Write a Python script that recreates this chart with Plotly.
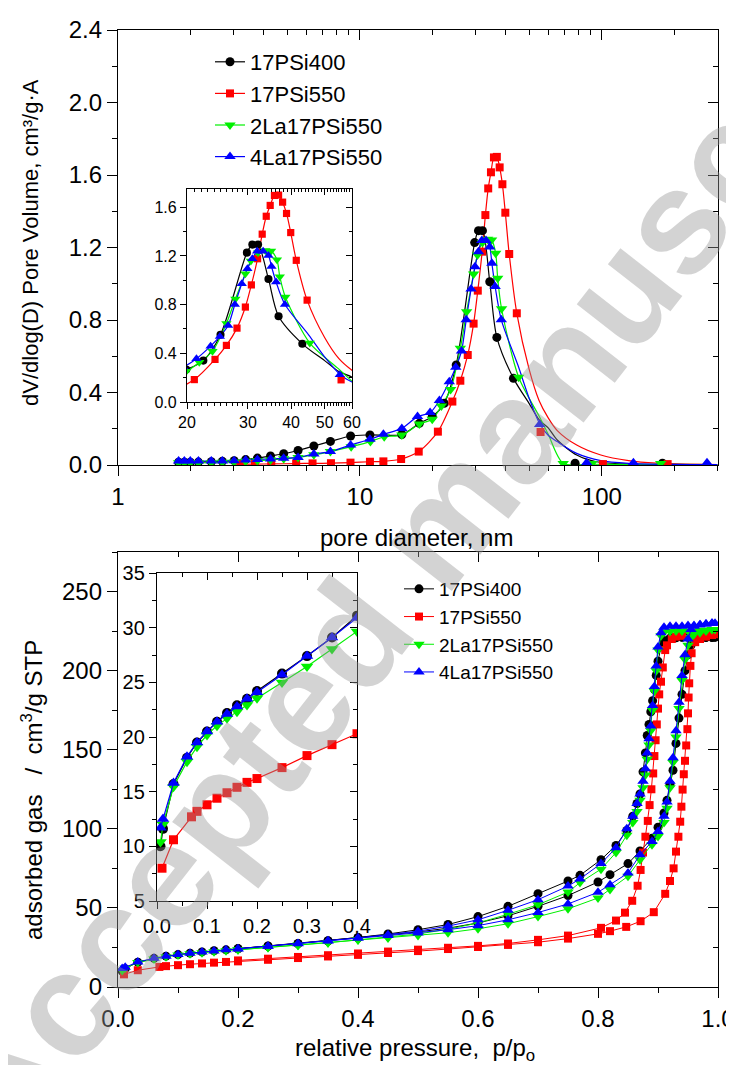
import math
import plotly.graph_objects as go

W, H = 734, 1073          # screenshot size
OFF = 8                    # page body margin
WF, HF = W - OFF, H - 2 * OFF
FONT = "Liberation Sans, Arial, sans-serif"

names = ["17PSi400", "17PSi550", "2La17PSi550", "4La17PSi550"]
colors = ["#000000", "#ff0000", "#00f000", "#0000ff"]
symbols = ["circle", "square", "triangle-down", "triangle-up"]

# ---------------- pore size distribution (top) ----------------
psd_d_17psi400 = [1.78, 1.88, 1.99, 2.15, 2.43, 2.70, 3.02, 3.37, 3.77, 4.27, 4.84, 5.55, 6.45, 7.55, 9.15,
                  11.0, 14.9, 17.6, 19.9, 22.3, 25.0, 29.8, 30.9, 32.1, 34.4, 36.8, 43.1, 77.5, 178]
psd_v_17psi400 = [0.015, 0.015, 0.015, 0.016, 0.018, 0.020, 0.024, 0.030, 0.038, 0.050, 0.062, 0.080, 0.105, 0.130, 0.160,
                  0.166, 0.168, 0.230, 0.267, 0.340, 0.552, 1.227, 1.293, 1.293, 1.011, 0.704, 0.478, 0.010, 0.010]
psd_tail_d_17psi400 = [50, 55, 60, 65.4, 78.7, 95, 130, 180, 300]
psd_tail_v_17psi400 = [0.34, 0.25, 0.205, 0.138, 0.055, 0.018, 0.005, 0.002, 0.001]

psd_d_17psi550 = [3.2, 3.68, 4.30, 5.45, 6.37, 7.59, 9.14, 11.0, 12.5, 14.8, 17.5, 21.0, 24.1, 26.0, 27.9, 29.5,
                  30.7, 32.0, 33.0, 33.9, 34.8, 35.8, 36.8, 37.8, 38.8, 39.9, 41.4, 44.5, 55.8, 101, 187]
psd_v_17psi550 = [0.004, 0.005, 0.006, 0.008, 0.009, 0.010, 0.013, 0.018, 0.020, 0.033, 0.074, 0.184, 0.350, 0.465, 0.607, 0.780,
                  0.962, 1.177, 1.379, 1.526, 1.615, 1.697, 1.700, 1.642, 1.549, 1.392, 1.164, 0.837, 0.182, 0.005, 0.005]
psd_tail_d_17psi550 = [50, 55, 60, 65.4, 78.7, 99, 129, 168, 300]
psd_tail_v_17psi550 = [0.53, 0.356, 0.26, 0.19, 0.11, 0.055, 0.024, 0.01, 0.002]

psd_d_2la = [1.78, 1.88, 1.99, 2.15, 2.43, 2.70, 3.02, 3.37, 3.77, 4.27, 4.84, 5.55, 6.45, 7.55, 9.2,
             11.05, 12.6, 14.9, 17.6, 19.9, 21.7, 23.7, 26.0, 27.6, 29.5, 30.6, 32.1, 33.7, 35.0, 36.4,
             37.1, 38.5, 45.3, 69.2, 91, 175]
psd_v_2la = [0.012, 0.012, 0.012, 0.012, 0.013, 0.015, 0.017, 0.020, 0.024, 0.028, 0.034, 0.042, 0.056, 0.074, 0.101,
             0.129, 0.156, 0.165, 0.226, 0.252, 0.326, 0.417, 0.644, 0.846, 1.054, 1.159, 1.227, 1.245, 1.241, 1.168,
             1.030, 0.862, 0.484, 0.008, 0.008, 0.008]
psd_tail_d_2la = [55, 60, 69.2, 91, 175, 300]
psd_tail_v_2la = [0.27, 0.17, 0.01, 0.004, 0.003, 0.002]

psd_d_4la = [1.78, 1.88, 1.99, 2.15, 2.43, 2.70, 3.02, 3.37, 3.77, 4.27, 4.84, 5.55, 6.45, 7.55, 9.15,
             11.0, 12.5, 14.9, 17.3, 19.5, 21.3, 23.4, 24.9, 26.3, 27.5, 28.8, 29.9, 30.9, 31.9, 33.2,
             34.4, 35.1, 36.2, 38.4, 55.3, 86.5, 135, 272]
psd_v_4la = [0.022, 0.022, 0.022, 0.022, 0.022, 0.022, 0.024, 0.028, 0.031, 0.033, 0.037, 0.042, 0.061, 0.074, 0.110,
             0.142, 0.169, 0.202, 0.267, 0.289, 0.356, 0.459, 0.539, 0.629, 0.801, 0.971, 1.094, 1.176, 1.239, 1.239,
             1.203, 1.113, 0.985, 0.801, 0.224, 0.013, 0.013, 0.013]
psd_tail_d_4la = [45, 50, 55.4, 60, 65.4, 78.7, 99, 129, 200, 300]
psd_tail_v_4la = [0.55, 0.37, 0.226, 0.164, 0.129, 0.064, 0.024, 0.009, 0.003, 0.002]

psd_cut = [43.1, 44.5, 45.3, 38.4]

# ---------------- N2 isotherms (bottom) ----------------
p_ads = [0.007, 0.012, 0.033, 0.06, 0.08, 0.10, 0.12, 0.14, 0.16, 0.18, 0.20, 0.25, 0.30, 0.35, 0.40,
         0.45, 0.50, 0.55, 0.60, 0.65, 0.70, 0.75, 0.80, 0.82, 0.85, 0.87, 0.89, 0.90, 0.91, 0.915,
         0.92, 0.925, 0.93, 0.935, 0.94, 0.945, 0.95, 0.955, 0.96, 0.97, 0.98, 0.99, 0.995]
p_des = [0.99, 0.98, 0.97, 0.96, 0.95, 0.94, 0.93, 0.92, 0.91, 0.905, 0.90, 0.897, 0.894, 0.891, 0.888,
         0.885, 0.882, 0.879, 0.875, 0.87, 0.865, 0.858, 0.848, 0.83, 0.805, 0.77, 0.75, 0.70, 0.65, 0.60,
         0.55, 0.50, 0.45, 0.40, 0.35, 0.30, 0.25, 0.20]

ads_17psi400 = [10.0, 11.6, 15.7, 18.1, 19.5, 20.5, 21.4, 22.2, 22.9, 23.5, 24.2, 25.8, 27.4, 29.1, 31.1,
                32.8, 34.8, 37.2, 40.5, 45.0, 51.0, 57.8, 66.4, 71.0, 78.0, 86.0, 94.0, 101, 110, 118,
                128, 137, 154, 170, 185, 200, 210, 216, 219, 220.5, 221, 221, 221]
des_17psi400 = [221, 221, 221, 221, 221, 221, 220.8, 220.5, 219, 215, 206, 197, 188, 181, 174,
                166, 159, 148, 136, 122, 116, 108, 99, 89.5, 80.5, 70.6, 67, 59, 51, 44.5,
                39.5, 36.2, 33.5, 31.3, 29.3, 27.5, 25.9, 24.3]

ads_2la = [10.4, 12.0, 15.45, 17.74, 19.1, 20.18, 21.04, 21.71, 22.32, 22.93, 23.55, 24.98, 26.45, 28.04, 29.66,
           31.0, 32.5, 34.3, 36.8, 40.0, 44.5, 49.4, 56.3, 61.6, 70, 80.5, 90, 95.2, 104, 113,
           126, 142, 158, 176, 194, 207, 216, 221, 223, 224, 225, 226, 226]
des_2la = [226, 225.5, 225.5, 225, 225, 225, 225, 224.8, 224.5, 222, 213, 200, 187, 175, 162,
           153, 144, 134, 126, 118, 111, 104, 96, 85, 74.5, 66, 60, 52, 46, 40.5,
           36.5, 33.5, 31.5, 29.8, 28.0, 26.4, 24.9, 23.5]

ads_4la = [11.7, 12.5, 15.8, 18.2, 19.5, 20.5, 21.4, 22.1, 22.8, 23.5, 24.1, 25.7, 27.4, 29.1, 30.9,
           32.5, 34.2, 36.2, 38.8, 42.5, 47.1, 52.5, 59.9, 64.7, 72, 83.6, 92, 98.3, 108, 117,
           130, 145, 162, 180, 197, 210, 220, 226, 228, 229, 229.5, 230, 230]
des_4la = [230, 229.5, 229, 228.5, 228.5, 228, 228, 228, 227.5, 224, 215, 203, 190, 178, 165,
           157, 148, 138, 130, 122, 116, 108, 100, 88, 78, 68.3, 63.8, 55.2, 48.5, 42.5,
           38.5, 35.3, 33, 31, 29.3, 27.5, 25.8, 24.2]

p_ads_17psi550 = [0.01, 0.033, 0.069, 0.08, 0.10, 0.12, 0.14, 0.16, 0.18, 0.20, 0.25, 0.30, 0.35, 0.40, 0.45,
                  0.50, 0.55, 0.60, 0.65, 0.70, 0.75, 0.80, 0.82, 0.847, 0.871, 0.893, 0.912, 0.92, 0.926, 0.93,
                  0.934, 0.937, 0.939, 0.941, 0.943, 0.945, 0.947, 0.949, 0.950, 0.951, 0.952, 0.954, 0.956, 0.962,
                  0.97, 0.98, 0.99, 0.995]
ads_17psi550 = [8.0, 10.6, 12.7, 13.2, 13.8, 14.4, 14.9, 15.4, 15.85, 16.2, 17.2, 18.3, 19.3, 20.3, 21.5,
                22.7, 24.0, 25.3, 26.6, 28.3, 30.6, 33.6, 35.3, 38.0, 41.6, 47.3, 58.9, 67.0, 75.0, 85.6,
                95.0, 104.5, 114, 124.8, 134.5, 143, 152.7, 163, 173, 183, 192, 203, 211, 218,
                220, 221.5, 222.5, 223]
p_des_17psi550 = [0.99, 0.98, 0.96, 0.94, 0.93, 0.923, 0.915, 0.912, 0.908, 0.905, 0.902, 0.900, 0.898, 0.896,
                  0.894, 0.892, 0.889, 0.886, 0.883, 0.879, 0.875, 0.871, 0.866, 0.857, 0.845, 0.83, 0.805,
                  0.75, 0.70, 0.65, 0.60, 0.55, 0.50, 0.45, 0.40, 0.35, 0.30, 0.25, 0.20]
des_17psi550 = [223, 222.5, 222, 222, 221.5, 220, 216, 213, 202, 193, 185, 176, 166, 156,
                146, 135, 125, 115, 105, 95, 85, 74, 64, 54.5, 47, 42, 37.4,
                32.5, 29.8, 27.5, 26.0, 24.8, 23.6, 22.4, 21.2, 20.1, 19.0, 17.9, 16.8]


def X(px_):
    return (px_ - OFF) / WF


def Y(py_):
    return 1 - (py_ - OFF) / HF


fig = go.Figure()

psd_sets = [
    (psd_d_17psi400, psd_v_17psi400, psd_tail_d_17psi400, psd_tail_v_17psi400),
    (psd_d_17psi550, psd_v_17psi550, psd_tail_d_17psi550, psd_tail_v_17psi550),
    (psd_d_2la, psd_v_2la, psd_tail_d_2la, psd_tail_v_2la),
    (psd_d_4la, psd_v_4la, psd_tail_d_4la, psd_tail_v_4la),
]
msize_top = [9, 8, 10, 10]

for axes, ms_scale in ((("x", "y"), 1.0), (("x2", "y2"), 0.9)):
    for i, (d, v, td, tv) in enumerate(psd_sets):
        lx = [a for a in d if a <= psd_cut[i]] + td
        ly = [b for a, b in zip(d, v) if a <= psd_cut[i]] + tv
        fig.add_trace(go.Scatter(x=lx, y=ly, mode="lines", line=dict(color=colors[i], width=1.2, shape="spline", smoothing=0.8),
                                 xaxis=axes[0], yaxis=axes[1], showlegend=False, hoverinfo="skip"))
    for i, (d, v, td, tv) in enumerate(psd_sets):
        fig.add_trace(go.Scatter(x=d, y=v, mode="markers",
                                 marker=dict(color=colors[i], symbol=symbols[i], size=msize_top[i] * ms_scale, line=dict(width=0)),
                                 xaxis=axes[0], yaxis=axes[1], showlegend=False, hoverinfo="skip"))

for i in range(4):
    fig.add_trace(go.Scatter(x=[None], y=[None], mode="lines+markers", name=names[i],
                             line=dict(color=colors[i], width=1.2),
                             marker=dict(color=colors[i], symbol=symbols[i], size=msize_top[i]),
                             xaxis="x", yaxis="y", legend="legend"))

iso_sets = [
    (p_ads, ads_17psi400, p_des, des_17psi400),
    (p_ads_17psi550, ads_17psi550, p_des_17psi550, des_17psi550),
    (p_ads, ads_2la, p_des, des_2la),
    (p_ads, ads_4la, p_des, des_4la),
]
msize_bot = [9, 8, 10, 10]
for i, (pa, va, pd_, vd) in enumerate(iso_sets):
    fig.add_trace(go.Scatter(x=pa + pd_, y=va + vd, mode="lines+markers",
                             line=dict(color=colors[i], width=1),
                             marker=dict(color=colors[i], symbol=symbols[i], size=msize_bot[i], line=dict(width=0)),
                             xaxis="x3", yaxis="y3", showlegend=False, hoverinfo="skip"))
for i, (pa, va, pd_, vd) in enumerate(iso_sets):
    xs = [a for a in pa if a <= 0.4]
    ys = [b for a, b in zip(pa, va) if a <= 0.4]
    fig.add_trace(go.Scatter(x=xs, y=ys, mode="lines+markers",
                             line=dict(color=colors[i], width=1.2),
                             marker=dict(color=colors[i], symbol=symbols[i], size=msize_bot[i] + 1, line=dict(width=0)),
                             xaxis="x4", yaxis="y4", showlegend=False, hoverinfo="skip"))
for i in range(4):
    fig.add_trace(go.Scatter(x=[None], y=[None], mode="lines+markers", name=names[i],
                             line=dict(color=colors[i], width=1),
                             marker=dict(color=colors[i], symbol=symbols[i], size=msize_bot[i]),
                             xaxis="x3", yaxis="y3", legend="legend2"))

# invisible anchor traces so the mirrored frame axes (top / right, inside ticks) get drawn
frame_pairs = [("x5", "y", 10, 1.0), ("x", "y5", 10, 1.0), ("x6", "y2", 30, 0.8), ("x2", "y6", 30, 0.8),
               ("x7", "y3", 0.5, 100), ("x3", "y7", 0.5, 100), ("x8", "y4", 0.2, 20), ("x4", "y8", 0.2, 20)]
for xa, ya, xv, yv in frame_pairs:
    fig.add_trace(go.Scatter(x=[xv], y=[yv], mode="markers", marker=dict(opacity=0, size=1),
                             xaxis=xa, yaxis=ya, showlegend=False, hoverinfo="skip"))


def ax(size, ticklen, **kw):
    d = dict(showline=True, linecolor="black", linewidth=1.3, showgrid=False, zeroline=False,
             ticks="outside", tickcolor="black", tickwidth=1.2, ticklen=ticklen, automargin=False,
             ticklabeloverflow="allow",
             tickfont=dict(family=FONT, size=size, color="black"), autorange=False)
    d.update(kw)
    return d


def minor(ticklen, inside=False, **kw):
    d = dict(ticks="inside" if inside else "outside", ticklen=ticklen, tickcolor="black", tickwidth=1, showgrid=False)
    d.update(kw)
    return d


top_major = [1, 10, 100]
top_minor = [k * 10 ** e for e in range(0, 3) for k in range(2, 10) if k * 10 ** e < 310]
top_range = [0, math.log10(302)]
ins_major = [20, 30, 40, 50, 60]
ins_minor = [v for v in range(21, 60) if v not in ins_major]
ins_range = [math.log10(20), math.log10(60)]

layout_axes = dict(
    # top main
    xaxis=ax(24, 10, type="log", range=top_range, domain=[X(118), X(718)], anchor="y",
             tickmode="array", tickvals=top_major, ticktext=["1", "10", "100"],
             minor=minor(5, tickmode="array", tickvals=top_minor)),
    yaxis=ax(24, 10, range=[0, 2.4], domain=[Y(465), Y(30)], anchor="x",
             tickmode="array", tickvals=[0, 0.4, 0.8, 1.2, 1.6, 2.0, 2.4], tickformat=".1f",
             minor=minor(5, dtick=0.2, tick0=0)),
    xaxis5=ax(24, 10, type="log", range=top_range, overlaying="x", side="top", anchor="y",
              tickmode="array", tickvals=top_major, ticks="inside", showticklabels=False,
              minor=minor(5, inside=True, tickmode="array", tickvals=top_minor)),
    yaxis5=ax(24, 10, range=[0, 2.4], overlaying="y", side="right", anchor="x",
              tickmode="array", tickvals=[0, 0.4, 0.8, 1.2, 1.6, 2.0, 2.4], ticks="inside", showticklabels=False,
              minor=minor(5, inside=True, dtick=0.2, tick0=0)),
    # top inset
    xaxis2=ax(16, 6, type="log", range=ins_range, domain=[X(187), X(352)], anchor="y2",
              tickmode="array", tickvals=ins_major, ticktext=[str(v) for v in ins_major],
              minor=minor(3, tickmode="array", tickvals=ins_minor)),
    yaxis2=ax(16, 6, range=[0, 1.75], domain=[Y(402), Y(189)], anchor="x2",
              tickmode="array", tickvals=[0, 0.4, 0.8, 1.2, 1.6], tickformat=".1f",
              minor=minor(3, dtick=0.2, tick0=0)),
    xaxis6=ax(16, 6, type="log", range=ins_range, overlaying="x2", side="top", anchor="y2",
              tickmode="array", tickvals=ins_major, ticks="inside", showticklabels=False,
              minor=minor(3, inside=True, tickmode="array", tickvals=ins_minor)),
    yaxis6=ax(16, 6, range=[0, 1.75], overlaying="y2", side="right", anchor="x2",
              tickmode="array", tickvals=[0, 0.4, 0.8, 1.2, 1.6], ticks="inside", showticklabels=False,
              minor=minor(3, inside=True, dtick=0.2, tick0=0)),
    # bottom main
    xaxis3=ax(24, 10, range=[0, 1], domain=[X(118), X(718)], anchor="y3",
              tickmode="linear", tick0=0, dtick=0.2, tickformat=".1f",
              minor=minor(5, dtick=0.1, tick0=0)),
    yaxis3=ax(24, 10, range=[0, 275], domain=[Y(987), Y(552)], anchor="x3",
              tickmode="linear", tick0=0, dtick=50,
              minor=minor(5, dtick=25, tick0=0)),
    xaxis7=ax(24, 10, range=[0, 1], overlaying="x3", side="top", anchor="y3",
              tickmode="linear", tick0=0, dtick=0.2, ticks="inside", showticklabels=False,
              minor=minor(5, inside=True, dtick=0.1, tick0=0)),
    yaxis7=ax(24, 10, range=[0, 275], overlaying="y3", side="right", anchor="x3",
              tickmode="linear", tick0=0, dtick=50, ticks="inside", showticklabels=False,
              minor=minor(5, inside=True, dtick=25, tick0=0)),
    # bottom inset
    xaxis4=ax(20, 7, range=[0, 0.4], domain=[X(157), X(357)], anchor="y4",
              tickmode="linear", tick0=0, dtick=0.1, tickformat=".1f",
              minor=minor(4, dtick=0.05, tick0=0)),
    yaxis4=ax(20, 7, range=[5, 35], domain=[Y(901), Y(573)], anchor="x4",
              tickmode="linear", tick0=5, dtick=5,
              minor=minor(4, dtick=2.5, tick0=5)),
    xaxis8=ax(20, 7, range=[0, 0.4], overlaying="x4", side="top", anchor="y4",
              tickmode="linear", tick0=0, dtick=0.1, ticks="inside", showticklabels=False,
              minor=minor(4, inside=True, dtick=0.05, tick0=0)),
    yaxis8=ax(20, 7, range=[5, 35], overlaying="y4", side="right", anchor="x4",
              tickmode="linear", tick0=5, dtick=5, ticks="inside", showticklabels=False,
              minor=minor(4, inside=True, dtick=2.5, tick0=5)),
)

annotations = [
    dict(text="<b>Accepted manuscript</b>", x=X(432), y=Y(532), xref="paper", yref="paper",
         showarrow=False, textangle=-52, font=dict(family=FONT, size=148, color="rgba(150,150,150,0.42)"),
         xanchor="center", yanchor="middle"),
    dict(text="dV/dlog(D) Pore Volume, cm³/g·A", x=X(30), y=Y(243), xref="paper", yref="paper",
         showarrow=False, textangle=-90, font=dict(family=FONT, size=22, color="black"),
         xanchor="center", yanchor="middle"),
    dict(text="pore diameter, nm", x=X(416), y=Y(537), xref="paper", yref="paper",
         showarrow=False, font=dict(family=FONT, size=24, color="black"), xanchor="center", yanchor="middle"),
    dict(text="adsorbed gas\u00a0\u00a0\u00a0/\u00a0\u00a0cm<sup>3</sup>/g STP", x=X(32), y=Y(790),
         xref="paper", yref="paper", showarrow=False, textangle=-90,
         font=dict(family=FONT, size=24, color="black"), xanchor="center", yanchor="middle"),
    dict(text="relative pressure,\u00a0\u00a0p/p<sub>o</sub>", x=X(415), y=Y(1049), xref="paper", yref="paper",
         showarrow=False, font=dict(family=FONT, size=24, color="black"), xanchor="center", yanchor="middle"),
]

fig.update_layout(
    width=WF, height=HF, autosize=False,
    margin=dict(l=0, r=0, t=0, b=0, pad=0),
    paper_bgcolor="white", plot_bgcolor="rgba(0,0,0,0)",
    font=dict(family=FONT, color="black"),
    hovermode=False,
    annotations=annotations,
    legend=dict(x=X(210), y=Y(41), xanchor="left", yanchor="top", bgcolor="rgba(0,0,0,0)",
                font=dict(family=FONT, size=22, color="black"), tracegroupgap=0, itemwidth=30),
    legend2=dict(x=X(399), y=Y(570), xanchor="left", yanchor="top", bgcolor="rgba(0,0,0,0)",
                 font=dict(family=FONT, size=19, color="black"), tracegroupgap=0, itemwidth=30),
    **layout_axes,
)

fig.write_html("out.html")
